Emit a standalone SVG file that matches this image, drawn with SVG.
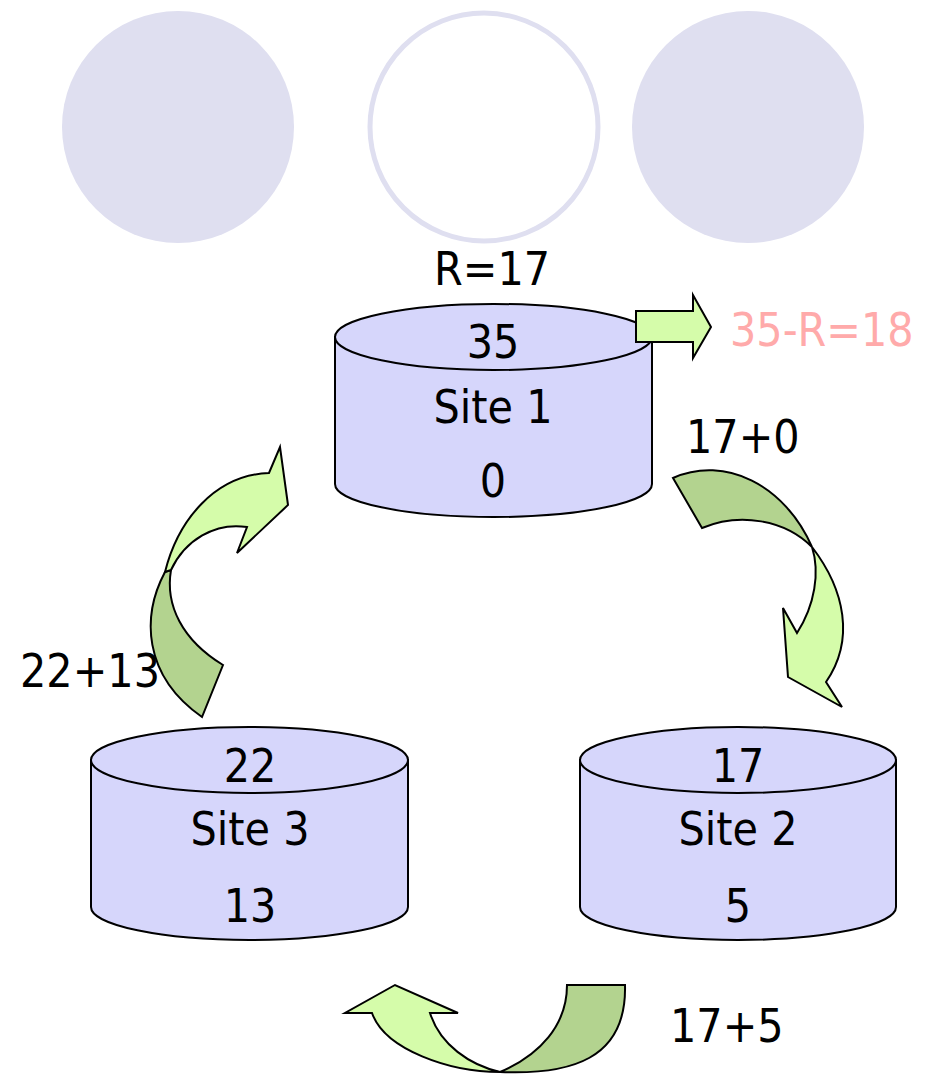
<svg xmlns="http://www.w3.org/2000/svg" width="930" height="1076" viewBox="0 0 930 1076">
<style>
text{font-family:"DejaVu Sans Condensed","DejaVu Sans",sans-serif;font-stretch:condensed;font-size:46px;fill:#000}
.mid{text-anchor:middle}
.cyl{fill:#d6d6fb;stroke:#000;stroke-width:2}
.lt{fill:#d5fcaa;stroke:#000;stroke-width:2;stroke-linejoin:miter}
.dk{fill:#b3d38f;stroke:#000;stroke-width:2;stroke-linejoin:miter}
</style>
<g id="circles">
<circle cx="178" cy="127" r="116" fill="#dfdff0"/>
<circle cx="484" cy="127" r="114" fill="#fff" stroke="#dfdff0" stroke-width="5"/>
<circle cx="748" cy="127" r="116" fill="#dfdff0"/>
</g>
<g id="site1">
<path class="cyl" d="M335,337 L335,484 A158.5,33 0 0 0 652,484 L652,337 Z"/>
<ellipse class="cyl" cx="493.5" cy="337" rx="158.5" ry="33"/>
<text class="mid" x="493" y="358">35</text>
<text class="mid" x="493" y="423">Site 1</text>
<text class="mid" x="493" y="497">0</text>
</g>
<g id="site2">
<path class="cyl" d="M580,760 L580,907 A158,33 0 0 0 896,907 L896,760 Z"/>
<ellipse class="cyl" cx="738" cy="760" rx="158" ry="33"/>
<text class="mid" x="738" y="782">17</text>
<text class="mid" x="738" y="845">Site 2</text>
<text class="mid" x="738" y="922">5</text>
</g>
<g id="site3">
<path class="cyl" d="M91,760 L91,907 A158.5,33 0 0 0 408,907 L408,760 Z"/>
<ellipse class="cyl" cx="249.5" cy="760" rx="158.5" ry="33"/>
<text class="mid" x="250" y="782">22</text>
<text class="mid" x="250" y="845">Site 3</text>
<text class="mid" x="250" y="922">13</text>
</g>
<g id="labels">
<text class="mid" x="492" y="285">R=17</text>
<text x="730" y="346" fill="#ffaaaa" style="fill:#ffaaaa">35-R=18</text>
<text x="686" y="453">17+0</text>
<text x="20" y="687">22+13</text>
<text x="670" y="1042">17+5</text>
</g>
<g id="connectors">
<polygon class="lt" points="636,311 693,311 693,295 711,327 693,358 693,342 636,342"/>
<path class="dk" d="M673,478 C725,455 785,485 812,547 C785,520 740,512 702,528 Z"/>
<path class="lt" d="M812,547 C845,590 855,640 826,682 L842,707 L788,677 L783,608 L797,633 C815,605 820,572 812,547 Z"/>
<path class="dk" d="M625,985 C627,1060 570,1075 500,1072 C540,1055 567,1025 567,985 Z"/>
<path class="lt" d="M500,1072 C450,1072 385,1050 372,1013 L345,1013 L395,985 L458,1013 L430,1013 C440,1045 470,1065 500,1072 Z"/>
<path class="dk" d="M165,572 C142,615 142,675 202,717 L223,665 C182,640 165,605 171,570 Z"/>
<path class="lt" d="M165,572 C178,520 215,475 269,473 L280,447 L288,505 L237,553 L247,527 C215,522 185,540 171,570 Z"/>
</g>
</svg>
